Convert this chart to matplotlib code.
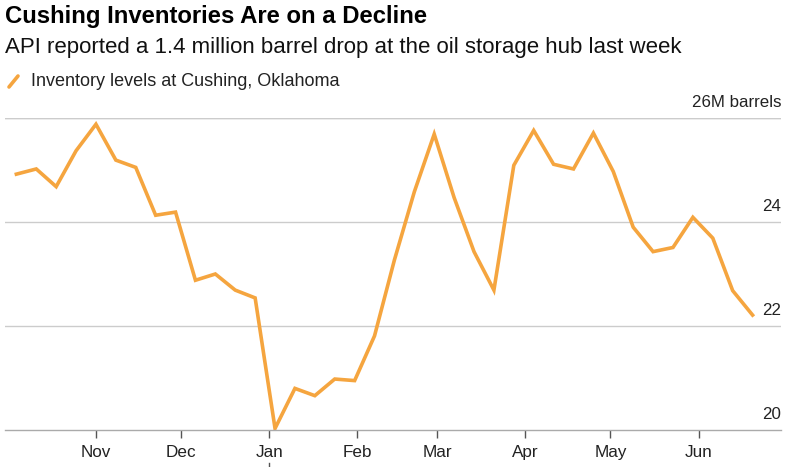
import matplotlib
matplotlib.use('Agg')
import matplotlib.pyplot as plt
import matplotlib.dates as mdates
import matplotlib.transforms as mtransforms
import pandas as pd

plt.rcParams['font.family'] = ['Liberation Sans', 'DejaVu Sans']

# weekly Cushing inventories, million barrels
dates = pd.date_range('2024-10-04', periods=38, freq='7D')
inventory = [24.92, 25.02, 24.68, 25.37, 25.88, 25.19, 25.05, 24.13, 24.19, 22.88,
             23.00, 22.69, 22.54, 20.03, 20.80, 20.66, 20.98, 20.95, 21.81, 23.27,
             24.58, 25.69, 24.47, 23.43, 22.69, 25.09, 25.76, 25.11, 25.02, 25.71,
             24.97, 23.90, 23.43, 23.51, 24.09, 23.69, 22.68, 22.21]

y_ticks = [20, 22, 24, 26]
y_labels = ['20', '22', '24', '26M barrels']
month_ticks = pd.date_range('2024-11-01', '2025-06-01', freq='MS')
years = ['2024', '2025']
year_pos = [pd.Timestamp('2024-11-16'), pd.Timestamp('2025-03-30')]

orange = '#f5a53f'
W, H = 800, 467
fig = plt.figure(figsize=(8.0, 4.67), dpi=100)
ax = fig.add_axes([5 / W, 1 - 430 / H, (781 - 5) / W, (430 - 118) / H])

ax.plot(dates, inventory, color=orange, linewidth=2.6, solid_joinstyle='miter')
ax.set_xlim(pd.Timestamp('2024-09-30'), pd.Timestamp('2025-06-30'))
ax.set_ylim(20, 26)

for s in ['top', 'right', 'left']:
    ax.spines[s].set_visible(False)
ax.spines['bottom'].set_color('#aaaaaa')
ax.spines['bottom'].set_linewidth(1)

ax.set_yticks(y_ticks[1:])
ax.yaxis.grid(True, color='#cccccc', linewidth=1)
ax.tick_params(axis='y', length=0, labelleft=False)
ax.axhline(26, color='#cccccc', linewidth=1, zorder=0)

trans = mtransforms.blended_transform_factory(ax.transAxes, ax.transData)
for v, lab in zip(y_ticks, y_labels):
    ax.text(1.0, v + 0.16, lab, transform=trans, ha='right', va='bottom',
            fontsize=12.2, color='#222222')

ax.set_xticks(month_ticks)
ax.xaxis.set_major_formatter(mdates.DateFormatter('%b'))
ax.tick_params(axis='x', length=6, width=1, color='#555555', pad=5,
               labelsize=12.3, labelcolor='#222222')

# year row, cut off by the bottom of the picture as in the original
xtrans = mtransforms.blended_transform_factory(ax.transData, ax.transAxes)
for yp, yl in zip(year_pos, years):
    ax.text(yp, -0.122, yl, transform=xtrans, ha='center', va='top', fontsize=12.3, color='#222222')
ax.plot([pd.Timestamp('2025-01-01')] * 2, [-0.105, -0.13], color='#555555', linewidth=1,
        transform=xtrans, clip_on=False)

fig.text(5 / W, 1 - 17 / H, 'Cushing Inventories Are on a Decline', fontsize=17.2,
         fontweight='bold', va='center', ha='left', color='#000000')
fig.text(5 / W, 1 - 48 / H, 'API reported a 1.4 million barrel drop at the oil storage hub last week',
         fontsize=16, va='center', ha='left', color='#111111')
fig.lines.append(plt.Line2D([9 / W, 18 / W], [1 - 87 / H, 1 - 76 / H], color=orange,
                            linewidth=2.6, transform=fig.transFigure, solid_capstyle='round'))
fig.text(31 / W, 1 - 81 / H, 'Inventory levels at Cushing, Oklahoma', fontsize=13,
         va='center', ha='left', color='#222222')

fig.savefig('out.png', dpi=100)
